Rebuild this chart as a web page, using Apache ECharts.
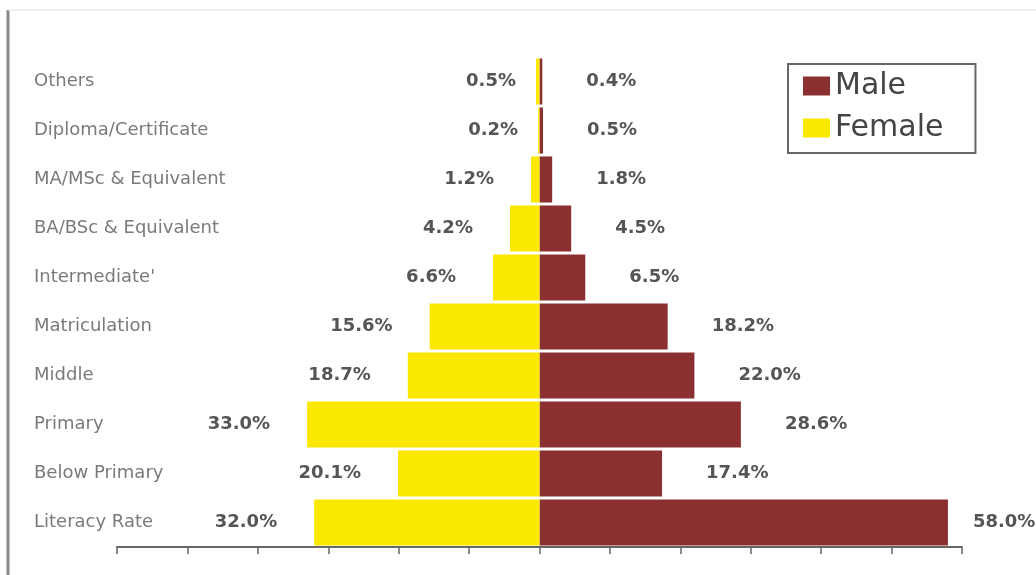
<!DOCTYPE html>
<html>
<head>
<meta charset="utf-8">
<script src="https://cdn.jsdelivr.net/npm/echarts@6/dist/echarts.min.js"></script>
<style>
  html, body { margin: 0; padding: 0; background: #fff; }
  #chart { width: 1036px; height: 575px; }
</style>
</head>
<body>
<div id="chart"></div>
<script>
// categories listed top to bottom
var categories = ['Others', 'Diploma/Certificate', 'MA/MSc & Equivalent', 'BA/BSc & Equivalent',
  "Intermediate'", 'Matriculation', 'Middle', 'Primary', 'Below Primary', 'Literacy Rate'];
var maleValues = [0.4, 0.5, 1.8, 4.5, 6.5, 18.2, 22.0, 28.6, 17.4, 58.0];
var femaleValues = [0.5, 0.2, 1.2, 4.2, 6.6, 15.6, 18.7, 33.0, 20.1, 32.0];
var axisMin = -60;
var axisMax = 60;
var axisStep = 10;

var maleColor = '#8c2f31';
var femaleColor = '#fbe800';

var valueLabel = {
  show: true,
  fontFamily: 'DejaVu Sans',
  fontWeight: 'bold',
  fontSize: 18,
  color: '#555'
};

var chart = echarts.init(document.getElementById('chart'));

var option = {
  animation: false,
  backgroundColor: '#fff',
  grid: {
    left: 117,
    right: 74,
    top: 57,
    bottom: 28
  },
  legend: {
    orient: 'vertical',
    left: 788,
    top: 64,
    padding: [7, 32, 10, 15],
    borderColor: '#666',
    borderWidth: 2,
    itemGap: 12,
    itemWidth: 27,
    itemHeight: 19,
    icon: 'rect',
    textStyle: {
      fontFamily: 'DejaVu Sans',
      fontSize: 30,
      color: '#444'
    },
    data: ['Male', 'Female']
  },
  xAxis: {
    type: 'value',
    min: axisMin,
    max: axisMax,
    interval: axisStep,
    axisLine: { show: true, lineStyle: { color: '#666', width: 2 } },
    axisTick: { show: true, length: 7, lineStyle: { color: '#666', width: 1.5 } },
    axisLabel: { show: false },
    splitLine: { show: false }
  },
  yAxis: {
    type: 'category',
    inverse: true,
    data: categories,
    position: 'left',
    axisLine: { show: false, onZero: false },
    axisTick: { show: false },
    axisLabel: {
      align: 'left',
      margin: 83,
      fontFamily: 'DejaVu Sans',
      fontSize: 18,
      color: '#7a7a7a'
    }
  },
  series: [
    {
      name: 'Male',
      type: 'bar',
      stack: 'total',
      barCategoryGap: '6%',
      itemStyle: { color: maleColor },
      label: Object.assign({}, valueLabel, {
        position: 'right',
        distance: 44,
        formatter: function (p) { return p.value.toFixed(1) + '%'; }
      }),
      data: maleValues.map(function (v) {
        return v > 50 ? { value: v, label: { distance: 25 } } : v;
      })
    },
    {
      name: 'Female',
      type: 'bar',
      stack: 'total',
      barCategoryGap: '6%',
      itemStyle: { color: femaleColor },
      label: Object.assign({}, valueLabel, {
        position: 'left',
        distance: 37,
        formatter: function (p) { return Math.abs(p.value).toFixed(1) + '%'; }
      }),
      data: femaleValues.map(function (v) {
        return v < 1 ? { value: -v, label: { distance: 20 } } : -v;
      })
    }
  ],
  graphic: [
    {
      type: 'line',
      shape: { x1: 8, y1: 10, x2: 8, y2: 575 },
      style: { stroke: '#8a8a8a', lineWidth: 3 }
    },
    {
      type: 'line',
      shape: { x1: 8, y1: 10, x2: 1036, y2: 10 },
      style: { stroke: '#e2e2e2', lineWidth: 1 }
    }
  ]
};

chart.setOption(option);
</script>
</body>
</html>
